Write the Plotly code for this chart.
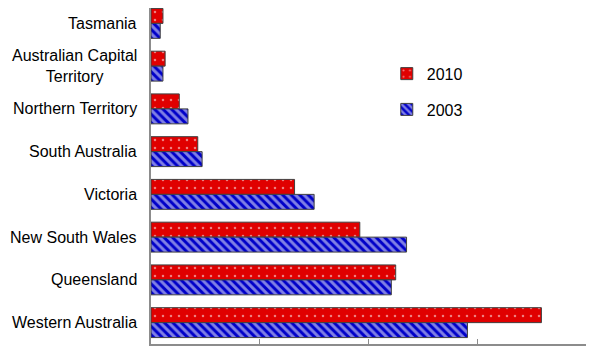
import plotly.graph_objects as go

# categories top -> bottom
states = ["Tasmania", "Australian Capital<br>Territory", "Northern Territory",
          "South Australia", "Victoria", "New South Wales", "Queensland",
          "Western Australia"]
vals_2010 = [0.11, 0.13, 0.26, 0.43, 1.32, 1.92, 2.25, 3.59]
vals_2003 = [0.085, 0.11, 0.34, 0.47, 1.50, 2.35, 2.21, 2.91]

fig = go.Figure()
fig.add_trace(go.Bar(
    y=states, x=vals_2010, orientation="h", name="2010", legendgroup="a",
    marker=dict(color="#e00000", line=dict(color="#404040", width=1),
                pattern=dict(shape=".", fgcolor="#ffffff", bgcolor="#e00000",
                             size=8, solidity=0.08)),
))
fig.add_trace(go.Bar(
    y=states, x=vals_2003, orientation="h", name="2003", legendgroup="b",
    marker=dict(color="#0000c8", line=dict(color="#404040", width=1),
                pattern=dict(shape="\\", fgcolor="#ffffff", bgcolor="#0000c8",
                             size=6, solidity=0.5)),
))

# category labels, centred line by line like the original
for s in states:
    fig.add_annotation(x=0, y=s, xref="paper", yref="y", text=s,
                       xanchor="right", align="center", xshift=-12,
                       showarrow=False, font=dict(size=16))

# page body has an 8px margin, so the figure is sized for that
fig.update_layout(
    width=588, height=352,
    margin=dict(l=143, r=10, t=0, b=16),
    plot_bgcolor="white", paper_bgcolor="white",
    barmode="group", bargap=0.3, bargroupgap=0,
    font=dict(family="Liberation Sans, Arial, sans-serif", size=16, color="black"),
    legend=dict(x=0.542, y=0.855, xanchor="left", yanchor="top",
                traceorder="grouped", tracegroupgap=12,
                font=dict(size=16), bgcolor="rgba(0,0,0,0)"),
    xaxis=dict(range=[0, 4], dtick=1, showticklabels=False, showgrid=False,
               zeroline=False, showline=True, linecolor="#8c8c8c", linewidth=1.5,
               ticks="inside", ticklen=5, tickcolor="#8c8c8c", automargin=False),
    yaxis=dict(range=[7.5, -0.36], showgrid=False, zeroline=False,
               showline=True, linecolor="#8c8c8c", linewidth=1.5,
               ticks="", showticklabels=False, automargin=False),
)

fig.write_html("out.html")
